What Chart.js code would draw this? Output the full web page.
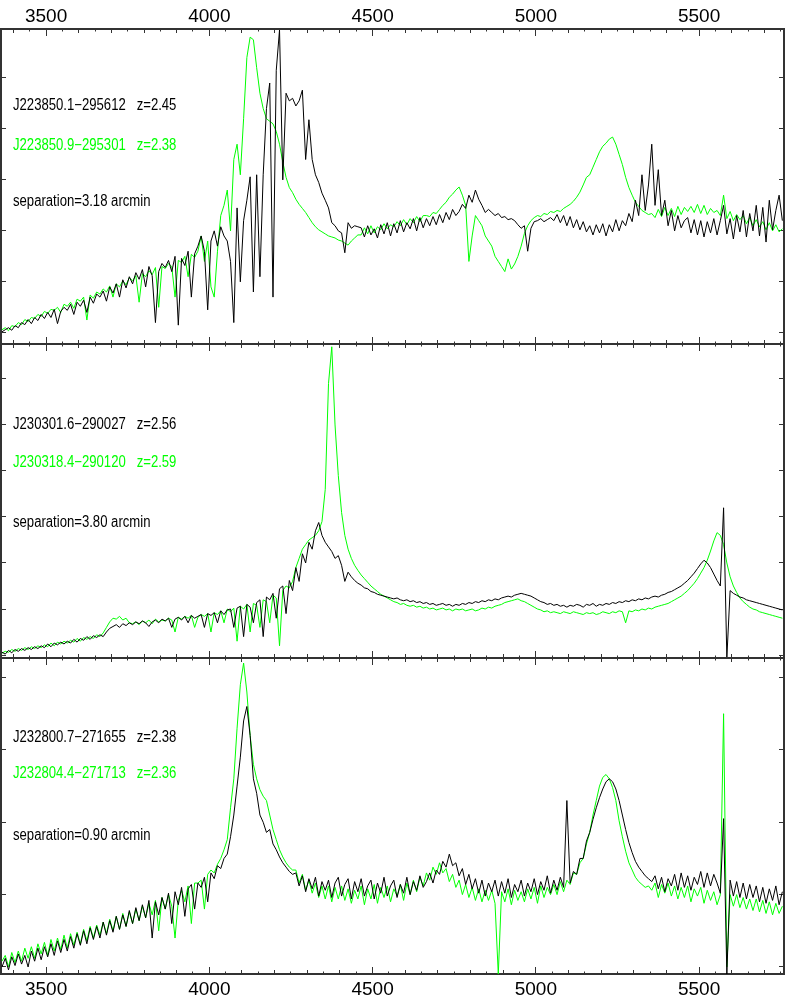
<!DOCTYPE html>
<html>
<head>
<meta charset="utf-8">
<title>Quasar pair spectra</title>
<script src="https://cdn.jsdelivr.net/npm/chart.js@4.4.0/dist/chart.umd.min.js"></script>
<style>
  body { margin: 0; background: #fff; }
  #wrap { position: relative; width: 785px; height: 1008px; overflow: hidden; }
  #wrap canvas { position: absolute; left: 0; top: 0; }
  .lbl {
    position: absolute; left: 13px; z-index: 5;
    font-family: 'Liberation Sans', Arial, sans-serif;
    font-size: 16px; line-height: 18px; white-space: pre; color: #000;
    transform: scaleX(0.82); transform-origin: 0 0;
  }
  .green { color: #00ff00; }
</style>
</head>
<body>
<div id="wrap">
  <canvas id="panel1" width="785" height="1008"></canvas>
  <canvas id="panel2" width="785" height="1008"></canvas>
  <canvas id="panel3" width="785" height="1008"></canvas>

  <div class="lbl" style="top:96px">J223850.1−295612   z=2.45</div>
  <div class="lbl green" style="top:136px">J223850.9−295301   z=2.38</div>
  <div class="lbl" style="top:192px">separation=3.18 arcmin</div>

  <div class="lbl" style="top:415px">J230301.6−290027   z=2.56</div>
  <div class="lbl green" style="top:453px">J230318.4−290120   z=2.59</div>
  <div class="lbl" style="top:513px">separation=3.80 arcmin</div>

  <div class="lbl" style="top:728px">J232800.7−271655   z=2.38</div>
  <div class="lbl green" style="top:764px">J232804.4−271713   z=2.36</div>
  <div class="lbl" style="top:826px">separation=0.90 arcmin</div>
</div>

<script>
// wavelength sampling (Angstrom) and visible range
const waveStart = 3365;
const waveStep = 10;
const waveMin = 3362;
const waveMax = 5760;
const majorTicks = [3500, 4000, 4500, 5000, 5500];
const minorSteps = [50, 100];

// panel 1: J223850.1-295612 (black) / J223850.9-295301 (green)
const black1 = [
  0.02, 0.06, 0.10, 0.05, 0.14, 0.10, 0.20, 0.16, 0.26, 0.18,
  0.30, 0.24, 0.36, 0.28, 0.40, 0.30, 0.46, 0.18, 0.42, 0.50,
  0.44, 0.56, 0.36, 0.60, 0.52, 0.64, 0.40, 0.70, 0.58, 0.76,
  0.70, 0.82, 0.62, 0.90, 0.78, 0.96, 0.70, 1.04, 0.88, 1.10,
  0.96, 1.18, 1.05, 1.24, 0.90, 1.30, 1.12, 0.20, 1.20, 1.36,
  1.28, 1.42, 1.20, 1.50, 0.15, 1.46, 1.32, 1.60, 0.70, 1.55,
  1.70, 1.90, 1.60, 0.45, 1.80, 2.00, 1.70, 2.08, 1.90, 1.80,
  1.40, 0.20, 2.45, 1.00, 2.20, 2.60, 3.06, 0.80, 3.10, 1.10,
  3.10, 4.40, 4.90, 0.70, 5.15, 5.94, 3.00, 4.70, 4.55, 4.60,
  4.45, 4.55, 4.76, 3.40, 4.18, 3.40, 3.10, 2.95, 2.74, 2.60,
  2.45, 2.16, 2.10, 2.00, 1.96, 1.57, 2.16, 2.05, 2.10, 2.08,
  2.06, 1.88, 2.10, 1.92, 2.04, 1.86, 2.12, 1.94, 2.16, 1.90,
  2.14, 1.96, 2.20, 1.98, 2.16, 2.04, 2.24, 2.00, 2.26, 2.06,
  2.24, 2.10, 2.28, 2.12, 2.32, 2.16, 2.36, 2.22, 2.42, 2.30,
  2.38, 2.52, 2.44, 2.70, 2.56, 2.80, 2.62, 2.50, 2.36, 2.42,
  2.36, 2.30, 2.34, 2.26, 2.28, 2.22, 2.24, 2.20, 2.12, 2.05,
  2.10, 1.60, 2.05, 2.18, 2.20, 2.24, 2.18, 2.22, 2.26, 2.20,
  2.32, 2.16, 2.30, 2.10, 2.28, 2.06, 2.22, 2.02, 2.18, 1.98,
  2.10, 1.92, 2.12, 1.96, 2.14, 1.90, 2.12, 1.98, 2.22, 2.00,
  2.20, 2.10, 2.34, 2.18, 2.60, 2.30, 3.10, 2.40, 2.90, 3.70,
  2.50, 3.20, 2.30, 2.60, 2.10, 2.40, 2.00, 2.30, 2.06, 2.20,
  2.26, 1.96, 2.22, 1.92, 2.20, 1.88, 2.18, 1.96, 2.24, 1.92,
  2.20, 2.50, 1.94, 2.24, 1.84, 2.30, 1.98, 2.40, 1.88, 2.34,
  2.00, 2.50, 1.90, 2.46, 1.78, 2.60, 2.02, 2.40, 2.70, 2.20
];
const green1 = [
  0.06, 0.10, 0.04, 0.14, 0.12, 0.20, 0.16, 0.26, 0.22, 0.30,
  0.28, 0.36, 0.32, 0.42, 0.38, 0.46, 0.44, 0.50, 0.40, 0.56,
  0.52, 0.60, 0.48, 0.66, 0.62, 0.70, 0.25, 0.74, 0.68, 0.80,
  0.76, 0.86, 0.80, 0.92, 0.70, 0.96, 0.90, 1.02, 0.94, 1.08,
  1.02, 1.12, 0.60, 1.16, 1.10, 1.22, 1.14, 1.28, 0.50, 1.30,
  1.26, 1.36, 1.30, 0.70, 1.42, 1.38, 1.50, 1.10, 1.54, 1.48,
  1.60, 1.90, 1.40, 1.80, 0.90, 0.70, 1.60, 2.30, 2.50, 2.80,
  2.00, 3.40, 3.70, 3.10, 4.20, 5.40, 5.80, 5.75, 5.20, 4.70,
  4.40, 4.20, 4.15, 4.10, 3.95, 3.70, 3.35, 3.05, 2.85, 2.75,
  2.62, 2.52, 2.44, 2.36, 2.26, 2.16, 2.08, 2.02, 1.98, 1.94,
  1.90, 1.88, 1.86, 1.82, 1.80, 1.76, 1.72, 1.80, 1.86, 1.92,
  1.92, 2.06, 1.94, 2.10, 1.96, 2.08, 2.02, 2.14, 2.04, 2.12,
  2.08, 2.18, 2.10, 2.22, 2.12, 2.24, 2.16, 2.28, 2.18, 2.30,
  2.30, 2.28, 2.36, 2.34, 2.42, 2.50, 2.56, 2.66, 2.72, 2.80,
  2.86, 2.70, 2.50, 1.40, 1.90, 2.30, 2.20, 2.10, 1.90, 1.80,
  1.70, 1.50, 1.40, 1.30, 1.20, 1.45, 1.25, 1.35, 1.50, 1.70,
  1.95, 2.10, 2.20, 2.26, 2.30, 2.28, 2.34, 2.32, 2.38, 2.36,
  2.40, 2.38, 2.44, 2.48, 2.52, 2.58, 2.66, 2.76, 2.90, 3.05,
  3.10, 3.25, 3.40, 3.55, 3.66, 3.72, 3.80, 3.84, 3.70, 3.50,
  3.30, 3.05, 2.85, 2.70, 2.56, 2.48, 2.40, 2.36, 2.32, 2.34,
  2.26, 2.42, 2.28, 2.46, 2.30, 2.44, 2.28, 2.48, 2.32, 2.46,
  2.38, 2.48, 2.36, 2.52, 2.34, 2.50, 2.32, 2.44, 2.36, 2.40,
  2.30, 2.70, 2.24, 2.38, 2.20, 2.32, 2.22, 2.30, 2.14, 2.26,
  2.10, 2.22, 2.08, 2.18, 2.02, 2.16, 2.00, 2.12, 1.98, 2.04
];

// panel 2: J230301.6-290027 (black) / J230318.4-290120 (green)
const black2 = [
  0.06, 0.02, 0.10, 0.05, 0.12, 0.08, 0.14, 0.10, 0.16, 0.12,
  0.18, 0.14, 0.20, 0.16, 0.24, 0.18, 0.26, 0.22, 0.28, 0.24,
  0.30, 0.26, 0.34, 0.28, 0.36, 0.32, 0.40, 0.34, 0.42, 0.38,
  0.44, 0.40, 0.50, 0.58, 0.62, 0.66, 0.60, 0.68, 0.64, 0.70,
  0.66, 0.72, 0.68, 0.74, 0.70, 0.62, 0.72, 0.76, 0.70, 0.78,
  0.74, 0.80, 0.60, 0.78, 0.82, 0.76, 0.84, 0.70, 0.86, 0.80,
  0.84, 0.88, 0.60, 0.90, 0.86, 0.92, 0.70, 0.96, 0.88, 0.98,
  1.00, 0.60, 1.02, 1.06, 0.40, 1.10, 1.04, 0.70, 1.14, 1.20,
  0.40, 1.26, 1.20, 1.34, 0.80, 1.44, 1.50, 0.90, 1.62, 1.40,
  1.90, 1.60, 2.20, 2.00, 2.45, 2.30, 2.70, 2.88, 2.60, 2.45,
  2.35, 2.25, 2.10, 2.16, 1.95, 1.60, 1.80, 1.70, 1.62, 1.56,
  1.52, 1.46, 1.44, 1.38, 1.36, 1.32, 1.30, 1.28, 1.26, 1.24,
  1.22, 1.24, 1.20, 1.18, 1.20, 1.16, 1.18, 1.14, 1.16, 1.12,
  1.14, 1.10, 1.12, 1.08, 1.10, 1.12, 1.08, 1.10, 1.06, 1.10,
  1.08, 1.12, 1.10, 1.14, 1.12, 1.16, 1.14, 1.18, 1.16, 1.20,
  1.18, 1.22, 1.20, 1.24, 1.26, 1.28, 1.26, 1.30, 1.32, 1.34,
  1.32, 1.30, 1.28, 1.24, 1.20, 1.16, 1.14, 1.10, 1.12, 1.08,
  1.10, 1.06, 1.08, 1.04, 1.08, 1.06, 1.10, 1.08, 1.04, 1.10,
  1.08, 1.12, 1.06, 1.10, 1.08, 1.12, 1.10, 1.14, 1.12, 1.16,
  1.14, 1.18, 1.16, 1.20, 1.18, 1.22, 1.20, 1.24, 1.22, 1.26,
  1.28, 1.26, 1.30, 1.32, 1.36, 1.38, 1.42, 1.46, 1.50, 1.56,
  1.62, 1.70, 1.78, 1.88, 1.98, 2.06, 2.00, 1.90, 1.76, 1.62,
  1.50, 3.20, -0.06, 1.40, 1.34, 1.30, 1.26, 1.24, 1.20, 1.18,
  1.16, 1.14, 1.12, 1.10, 1.08, 1.06, 1.04, 1.02, 1.00, 0.98
];
const green2 = [
  0.04, 0.08, 0.06, 0.12, 0.08, 0.14, 0.10, 0.16, 0.12, 0.18,
  0.14, 0.20, 0.16, 0.22, 0.18, 0.26, 0.20, 0.28, 0.24, 0.30,
  0.26, 0.32, 0.28, 0.36, 0.30, 0.38, 0.34, 0.40, 0.36, 0.44,
  0.40, 0.48, 0.60, 0.72, 0.80, 0.78, 0.84, 0.76, 0.80, 0.70,
  0.68, 0.72, 0.66, 0.74, 0.70, 0.76, 0.68, 0.78, 0.72, 0.76,
  0.74, 0.80, 0.76, 0.50, 0.82, 0.78, 0.84, 0.80, 0.86, 0.60,
  0.82, 0.88, 0.84, 0.90, 0.50, 0.92, 0.88, 0.96, 0.70, 1.00,
  0.94, 1.02, 0.30, 1.06, 1.00, 1.10, 0.50, 1.12, 1.08, 0.60,
  1.20, 1.16, 0.70, 1.30, 1.24, 0.20, 1.40, 1.50, 1.46, 1.60,
  1.90, 2.10, 2.30, 2.40, 2.50, 2.55, 2.60, 2.70, 2.90, 3.60,
  5.90, 6.70, 5.00, 3.90, 3.10, 2.60, 2.30, 2.10, 1.95, 1.84,
  1.74, 1.66, 1.58, 1.50, 1.44, 1.38, 1.32, 1.28, 1.24, 1.20,
  1.16, 1.14, 1.10, 1.12, 1.08, 1.06, 1.08, 1.04, 1.06, 1.02,
  1.04, 1.00, 1.02, 0.98, 1.00, 1.02, 0.98, 1.00, 0.96, 1.00,
  0.98, 1.00, 0.96, 0.98, 1.00, 0.96, 0.98, 1.02, 1.00, 1.04,
  1.02, 1.06, 1.08, 1.10, 1.14, 1.16, 1.18, 1.20, 1.22, 1.18,
  1.16, 1.12, 1.08, 1.04, 1.00, 0.98, 0.94, 0.96, 0.92, 0.94,
  0.92, 0.90, 0.94, 0.92, 0.90, 0.94, 0.92, 0.90, 0.88, 0.92,
  0.90, 0.92, 0.88, 0.90, 0.94, 0.92, 0.90, 0.94, 0.92, 0.96,
  0.94, 0.70, 0.96, 0.94, 0.98, 0.96, 1.00, 0.98, 1.02, 1.00,
  1.04, 1.06, 1.08, 1.10, 1.12, 1.16, 1.20, 1.24, 1.28, 1.34,
  1.40, 1.48, 1.56, 1.66, 1.78, 1.90, 2.06, 2.26, 2.48, 2.66,
  2.60, 2.40, 2.00, 1.70, 1.50, 1.36, 1.24, 1.16, 1.10, 1.04,
  1.00, 0.98, 0.94, 0.92, 0.90, 0.88, 0.86, 0.84, 0.82, 0.80
];

// panel 3: J232800.7-271655 (black) / J232804.4-271713 (green)
const black3 = [
  0.00, 0.12, -0.04, 0.14, 0.02, 0.18, 0.04, 0.16, 0.00, 0.22,
  0.08, 0.26, 0.10, 0.28, 0.14, 0.32, 0.16, 0.36, 0.20, 0.38,
  0.22, 0.42, 0.26, 0.46, 0.30, 0.50, 0.32, 0.54, 0.38, 0.56,
  0.40, 0.62, 0.44, 0.64, 0.48, 0.70, 0.52, 0.72, 0.56, 0.78,
  0.60, 0.82, 0.64, 0.86, 0.68, 0.92, 0.40, 0.90, 0.72, 0.96,
  0.80, 1.02, 0.60, 1.04, 0.86, 1.10, 0.70, 1.08, 1.14, 0.80,
  1.16, 1.10, 1.24, 0.90, 1.30, 1.22, 1.40, 1.36, 1.50, 1.56,
  1.80, 2.10, 2.50, 2.90, 3.40, 3.60, 3.20, 2.60, 2.40, 2.10,
  2.00, 1.86, 1.90, 1.70, 1.62, 1.52, 1.44, 1.38, 1.32, 1.28,
  1.30, 1.12, 1.26, 1.04, 1.22, 1.08, 1.24, 0.98, 1.18, 1.06,
  1.20, 0.96, 1.16, 1.24, 0.98, 1.14, 1.22, 0.94, 1.18, 1.04,
  1.22, 0.98, 1.12, 1.20, 0.94, 1.16, 1.02, 1.24, 0.98, 1.12,
  1.20, 0.96, 1.14, 1.02, 1.24, 1.00, 1.18, 1.06, 1.26, 1.10,
  1.18, 1.30, 1.16, 1.34, 1.28, 1.46, 1.38, 1.56, 1.40, 1.44,
  1.26, 1.36, 1.14, 1.28, 1.08, 1.22, 1.02, 1.20, 0.98, 1.16,
  1.04, 1.20, 0.98, 1.18, 1.02, 1.22, 0.96, 1.14, 1.04, 1.20,
  0.98, 1.16, 1.04, 1.22, 1.00, 1.18, 1.06, 1.26, 1.02, 1.20,
  1.06, 1.24, 1.10, 2.30, 1.16, 1.32, 1.28, 1.50, 1.50, 1.74,
  1.86, 2.04, 2.20, 2.34, 2.46, 2.56, 2.60, 2.56, 2.46, 2.30,
  2.10, 1.90, 1.72, 1.58, 1.46, 1.38, 1.32, 1.26, 1.22, 1.18,
  1.26, 1.08, 1.24, 1.04, 1.22, 1.12, 1.28, 1.06, 1.30, 1.10,
  1.26, 1.06, 1.24, 1.14, 1.32, 1.10, 1.30, 1.12, 1.28, 1.16,
  1.02, 2.05, -0.10, 1.20, 0.98, 1.18, 0.96, 1.16, 0.94, 1.14,
  0.96, 1.12, 0.90, 1.10, 0.88, 1.08, 0.92, 1.12, 0.86, 1.04
];
const green3 = [
  0.08, 0.16, 0.00, 0.20, 0.06, 0.22, 0.08, 0.26, 0.12, 0.28,
  0.12, 0.32, 0.18, 0.34, 0.16, 0.38, 0.22, 0.40, 0.24, 0.44,
  0.26, 0.46, 0.30, 0.48, 0.32, 0.52, 0.36, 0.56, 0.40, 0.58,
  0.44, 0.62, 0.46, 0.66, 0.50, 0.70, 0.52, 0.74, 0.56, 0.76,
  0.60, 0.80, 0.64, 0.84, 0.68, 0.88, 0.72, 0.92, 0.50, 0.96,
  0.80, 1.00, 0.84, 0.40, 0.92, 1.06, 0.90, 1.12, 0.60, 1.16,
  1.16, 1.20, 0.80, 1.28, 1.34, 1.30, 1.42, 1.50, 1.62, 1.76,
  2.20, 2.60, 3.30, 3.90, 4.20, 3.80, 3.20, 2.80, 2.60, 2.45,
  2.36, 2.30, 2.10, 1.90, 1.76, 1.62, 1.52, 1.44, 1.38, 1.34,
  1.34, 1.16, 1.28, 1.06, 1.20, 1.02, 1.16, 0.96, 1.12, 0.94,
  1.12, 0.90, 1.10, 0.94, 1.12, 0.92, 1.08, 0.88, 1.06, 0.94,
  1.12, 0.86, 1.08, 0.94, 1.14, 0.88, 1.10, 0.96, 1.12, 0.90,
  1.08, 0.98, 1.14, 0.92, 1.16, 1.00, 1.20, 1.04, 1.24, 1.12,
  1.30, 1.20, 1.38, 1.28, 1.44, 1.30, 1.36, 1.18, 1.28, 1.10,
  1.20, 1.00, 1.14, 0.96, 1.10, 0.92, 1.08, 0.90, 1.06, 0.92,
  1.06, 0.88, -0.10, 1.04, 0.90, 1.08, 0.86, 1.06, 0.92, 1.04,
  0.90, 1.08, 0.94, 1.10, 0.88, 1.12, 0.96, 1.10, 1.00, 1.14,
  1.00, 1.18, 1.04, 1.20, 1.14, 1.30, 1.28, 1.44, 1.50, 1.70,
  1.86, 2.10, 2.30, 2.50, 2.62, 2.66, 2.60, 2.48, 2.30, 2.02,
  1.80, 1.60, 1.44, 1.34, 1.24, 1.18, 1.14, 1.10, 1.12, 1.06,
  1.16, 0.96, 1.14, 1.02, 1.16, 0.98, 1.12, 0.94, 1.10, 0.96,
  1.12, 0.90, 1.08, 0.98, 1.10, 0.88, 1.06, 0.92, 1.04, 0.86,
  1.00, 3.50, 0.00, 1.00, 0.84, 1.00, 0.82, 0.96, 0.80, 0.94,
  0.78, 0.94, 0.76, 0.92, 0.74, 0.90, 0.72, 0.88, 0.74, 0.84
];

const frameColor = '#333';
const tickFont = { family: "'Liberation Sans', Arial, sans-serif", size: 19 };
const labelBand = 28;

function toPoints(flux) {
  return flux.map((f, i) => ({ x: waveStart + i * waveStep, y: f }));
}

// tick positions for one tick level: the labelled 500 A ticks, or every 50 / 100 A
function tickValues(step) {
  if (step === 500) return majorTicks;
  const values = [];
  for (let v = Math.ceil(waveMin / step) * step; v <= waveMax; v += step) values.push(v);
  return values;
}

// x axes sit on the frame and draw their ticks inward; only the labelled one takes room
function xAxis(position, step, showLabels, padding) {
  const len = step === 500 ? 7 : step === 100 ? 4 : 2.5;
  return {
    type: 'linear',
    position: position,
    weight: showLabels ? 10 : 0,
    min: waveMin,
    max: waveMax,
    afterBuildTicks: scale => {
      scale.ticks = tickValues(step).map(v => ({ value: v }));
    },
    afterFit: scale => {
      scale.height = showLabels ? labelBand : 0;
      scale.paddingLeft = 0;
      scale.paddingRight = 0;
    },
    border: { display: step === 500, color: frameColor, width: 2 },
    grid: { drawOnChartArea: false, drawTicks: true, tickLength: -len, tickColor: frameColor, tickWidth: 1 },
    ticks: {
      display: showLabels, autoSkip: false, maxRotation: 0,
      padding: padding || 0, color: '#000', font: tickFont,
      callback: value => String(value)
    }
  };
}

function yAxis(position, p) {
  return {
    type: 'linear',
    position: position,
    min: p.yMin,
    max: p.yMax,
    afterFit: scale => {
      scale.width = 0;
      scale.paddingTop = 0;
      scale.paddingBottom = 0;
    },
    border: { display: true, color: frameColor, width: 2 },
    grid: { drawOnChartArea: false, drawTicks: true, tickLength: -5, tickColor: frameColor, tickWidth: 1 },
    ticks: { display: false, stepSize: 1, includeBounds: false }
  };
}

const panels = [
  { id: 'panel1', top: 29, bottom: 344, yMin: -0.22, yMax: 5.96, black: black1, green: green1, labelsTop: true, labelsBottom: false },
  { id: 'panel2', top: 344, bottom: 658, yMin: -0.065, yMax: 6.76, black: black2, green: green2, labelsTop: false, labelsBottom: false },
  { id: 'panel3', top: 658, bottom: 974, yMin: -0.097, yMax: 4.27, black: black3, green: green3, labelsTop: false, labelsBottom: true }
];

panels.forEach(p => {
  const scales = {
    x: xAxis('bottom', 500, p.labelsBottom, 11),
    xTop500: xAxis('top', 500, p.labelsTop, 8),
    y: yAxis('left', p),
    yRight: yAxis('right', p)
  };
  minorSteps.forEach(step => {
    scales['xBottom' + step] = xAxis('bottom', step, false);
    scales['xTop' + step] = xAxis('top', step, false);
  });

  const padTop = p.labelsTop ? p.top - labelBand : p.top;
  const padBottom = p.labelsBottom ? 1008 - p.bottom - labelBand : 1008 - p.bottom;

  new Chart(document.getElementById(p.id), {
    type: 'line',
    data: {
      datasets: [
        {
          label: 'black',
          data: toPoints(p.black),
          borderColor: '#000000',
          borderWidth: 1,
          pointRadius: 0,
          tension: 0,
          xAxisID: 'x',
          yAxisID: 'y'
        },
        {
          label: 'green',
          data: toPoints(p.green),
          borderColor: '#00ff00',
          borderWidth: 1,
          pointRadius: 0,
          tension: 0,
          xAxisID: 'x',
          yAxisID: 'y'
        }
      ]
    },
    options: {
      responsive: false,
      animation: false,
      events: [],
      layout: { padding: { top: padTop, bottom: padBottom, left: 1, right: 1 } },
      plugins: {
        legend: { display: false },
        tooltip: { enabled: false }
      },
      scales: scales
    }
  });
});
</script>
</body>
</html>
